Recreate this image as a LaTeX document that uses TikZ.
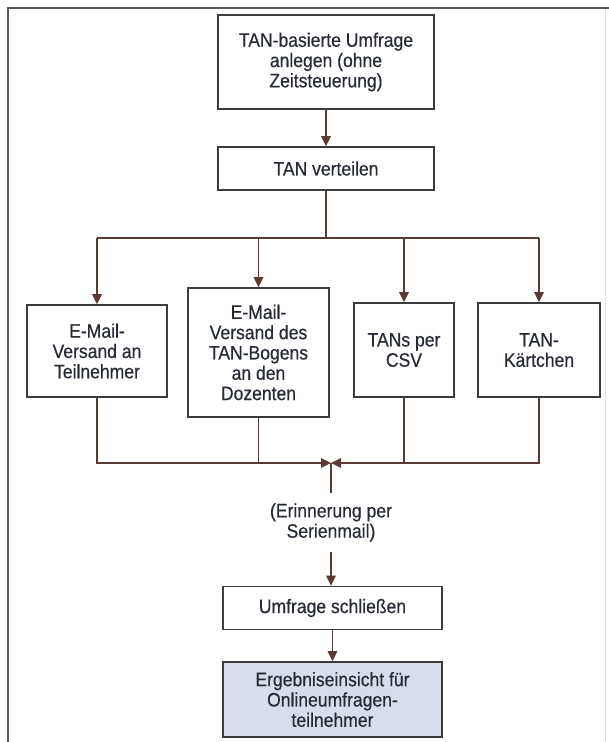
\documentclass[tikz,border=0pt]{standalone}
\usepackage{fontspec}
\setmainfont[FakeStretch=0.9,FakeBold=0.4]{Liberation Sans}
\usetikzlibrary{arrows.meta}
\definecolor{linkbrown}{HTML}{5A3A33}
\definecolor{boxline}{HTML}{3C3C3C}
\definecolor{ink}{HTML}{262A35}
\definecolor{resultfill}{HTML}{D5DEEA}
\begin{document}
\begin{tikzpicture}[x=1pt,y=-1pt,
  font=\fontsize{19.5}{20.3}\selectfont,
  stepbox/.style={draw=boxline,line width=1.6pt,fill=white,text=ink,
    align=center,inner sep=2pt,rectangle},
  link/.style={draw=linkbrown,line width=1.4pt},
  arr/.style={link,-{Triangle[length=10pt,width=9.5pt]}}]
\useasboundingbox (0,0) rectangle (609,742);
% page frame
\draw[draw=black!65,line width=1.4pt] (8,742) -- (8,8) -- (609,8);
\draw[draw=black!12,line width=1pt] (605.5,9) -- (605.5,742);

% process boxes
\node[stepbox,minimum width=216pt,minimum height=94pt] (top) at (326,62)
  {TAN-basierte Umfrage\\anlegen (ohne\\Zeitsteuerung)};
\node[stepbox,minimum width=216pt,minimum height=43pt] (tanv) at (326,168.5)
  {TAN verteilen};
\node[stepbox,minimum width=140pt,minimum height=92pt] (b1) at (97,351)
  {E-Mail-\\Versand an\\Teilnehmer};
\node[stepbox,minimum width=141pt,minimum height=129pt] (b2) at (258.5,352.5)
  {E-Mail-\\Versand des\\TAN-Bogens\\an den\\Dozenten};
\node[stepbox,minimum width=100pt,minimum height=94pt] (b3) at (404,350)
  {TANs per\\CSV};
\node[stepbox,minimum width=122pt,minimum height=94pt] (b4) at (539,350)
  {TAN-\\Kärtchen};
\node[text=ink,align=center] (memo) at (331,522.5)
  {(Erinnerung per\\Serienmail)};
\node[stepbox,minimum width=219pt,minimum height=43pt] (umf) at (332.5,608)
  {Umfrage schließen};
\node[stepbox,fill=resultfill,minimum width=219pt,minimum height=75pt] (erg) at (332.5,699.5)
  {Ergebniseinsicht für\\Onlineumfragen-\\teilnehmer};

% branch and join points
\coordinate (split) at (326,238);
\coordinate (join) at (331,463);
\coordinate (memotop) at (331,493);
\coordinate (memobot) at (331,552);

% connectors
\draw[arr] (top) -- (tanv);
\draw[link] (tanv) -- (split);
\draw[link] (b1.north |- split) -- (b4.north |- split);
\foreach \b in {b1,b2,b3,b4}
  \draw[arr] (\b.north |- split) -- (\b.north);
\draw[arr] (b1.south) -- (b1.south |- join) -- (join);
\draw[arr] (b4.south) -- (b4.south |- join) -- (join);
\draw[link] (b2.south) -- (b2.south |- join);
\draw[link] (b3.south) -- (b3.south |- join);
\draw[link] (join) -- (memotop);
\draw[arr] (memobot) -- (umf.north -| memobot);
\draw[arr] (umf) -- (erg);
\end{tikzpicture}
\end{document}
